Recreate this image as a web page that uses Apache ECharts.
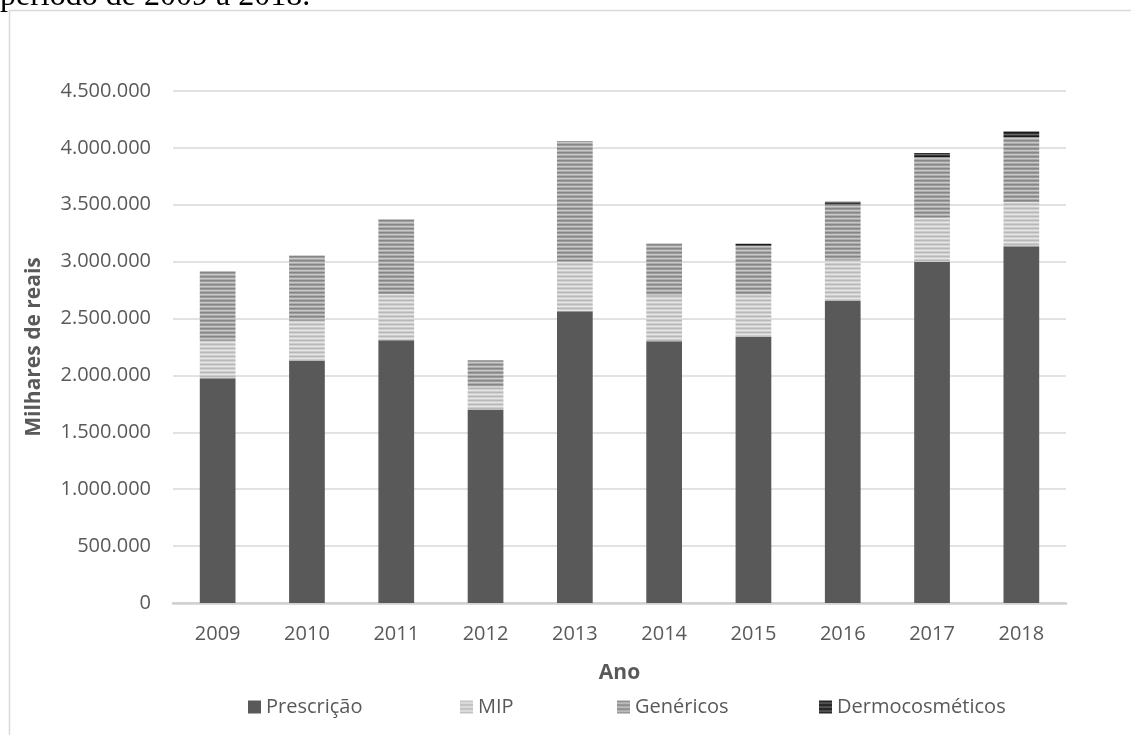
<!DOCTYPE html>
<html>
<head>
<meta charset="utf-8">
<script src="https://cdn.jsdelivr.net/npm/echarts@6/dist/echarts.min.js"></script>
<style>
  html, body { margin: 0; padding: 0; background: #fff; }
  #chart { width: 1131px; height: 735px; }
</style>
</head>
<body>
<div id="chart"></div>
<script>
// Faturamento por categoria (milhares de reais), 2009–2018
const anos = ['2009', '2010', '2011', '2012', '2013', '2014', '2015', '2016', '2017', '2018'];
const prescricao = [1975000, 2126000, 2310000, 1700000, 2565000, 2300000, 2340000, 2655000, 3000000, 3135000];
const mip = [330000, 354000, 405000, 200000, 435000, 400000, 372000, 360000, 385000, 390000];
const genericos = [610000, 575000, 657000, 233000, 1060000, 460000, 428000, 490000, 535000, 570000];
const dermocosmeticos = [0, 0, 0, 0, 0, 0, 17000, 22000, 35000, 50000];
const nomesSeries = ['Prescrição', 'MIP', 'Genéricos', 'Dermocosméticos'];
const tituloTexto = 'período de 2009 a 2018.';

// Horizontal stripe fill built from a list of row colours
function stripes(rows) {
  const c = document.createElement('canvas');
  c.width = 8;
  c.height = rows.length;
  const ctx = c.getContext('2d');
  rows.forEach((col, i) => {
    ctx.fillStyle = col;
    ctx.fillRect(0, i, 8, 1);
  });
  return { image: c, repeat: 'repeat' };
}

const fills = [
  '#595959',
  stripes(['#b8b8b8', '#d0d0d0', '#e6e6e6', '#cccccc']),
  stripes(['#858585', '#9c9c9c', '#c8c8c8', '#adadad']),
  stripes(['#1a1a1a', '#303030', '#6a6a6a', '#383838'])
];

const values = [prescricao, mip, genericos, dermocosmeticos];
const font = 'Open Sans';
const legendLefts = [243, 455, 612, 814];

const chart = echarts.init(document.getElementById('chart'), null, { renderer: 'canvas' });

chart.setOption({
  animation: false,
  backgroundColor: '#ffffff',
  graphic: [
    {
      type: 'rect',
      silent: true,
      shape: { x: 9.5, y: 10.5, width: 1200, height: 800 },
      style: { fill: 'none', stroke: '#d9d9d9', lineWidth: 1.5 }
    },
    {
      type: 'text',
      silent: true,
      x: 0,
      y: 13,
      style: {
        text: tituloTexto,
        font: '32px "Liberation Serif"',
        fill: '#000000',
        verticalAlign: 'bottom'
      }
    }
  ],
  grid: { left: 173, right: 65, top: 91, bottom: 132, containLabel: false },
  legend: nomesSeries.map((n, i) => ({
    data: [n],
    left: legendLefts[i],
    top: 692,
    icon: 'rect',
    itemWidth: 13,
    itemHeight: 13,
    itemGap: 6,
    textStyle: { fontFamily: font, fontSize: 20, color: '#595959', padding: [0, 0, 0, 0] }
  })),
  xAxis: {
    type: 'category',
    data: anos,
    name: 'Ano',
    nameLocation: 'middle',
    nameGap: 60,
    nameTextStyle: { fontFamily: font, fontSize: 21, fontWeight: 'bold', color: '#595959' },
    axisLine: { lineStyle: { color: '#d0d0d0', width: 2.5 } },
    axisTick: { show: false },
    axisLabel: { fontFamily: font, fontSize: 20, color: '#595959', margin: 21 }
  },
  yAxis: {
    type: 'value',
    min: 0,
    max: 4500000,
    interval: 500000,
    name: 'Milhares de reais',
    nameLocation: 'middle',
    nameGap: 128,
    nameTextStyle: { fontFamily: font, fontSize: 21, fontWeight: 'bold', color: '#595959' },
    axisLine: { show: false },
    axisTick: { show: false },
    splitLine: { lineStyle: { color: '#d9d9d9', width: 1.5 } },
    axisLabel: {
      fontFamily: font,
      fontSize: 20,
      color: '#595959',
      margin: 22,
      formatter: v => v.toLocaleString('pt-BR').replace(/,/g, '.')
    }
  },
  series: nomesSeries.map((n, i) => ({
    name: n,
    type: 'bar',
    stack: 'total',
    barWidth: '40%',
    data: values[i],
    itemStyle: { color: fills[i] },
    emphasis: { disabled: true }
  }))
});
</script>
</body>
</html>
